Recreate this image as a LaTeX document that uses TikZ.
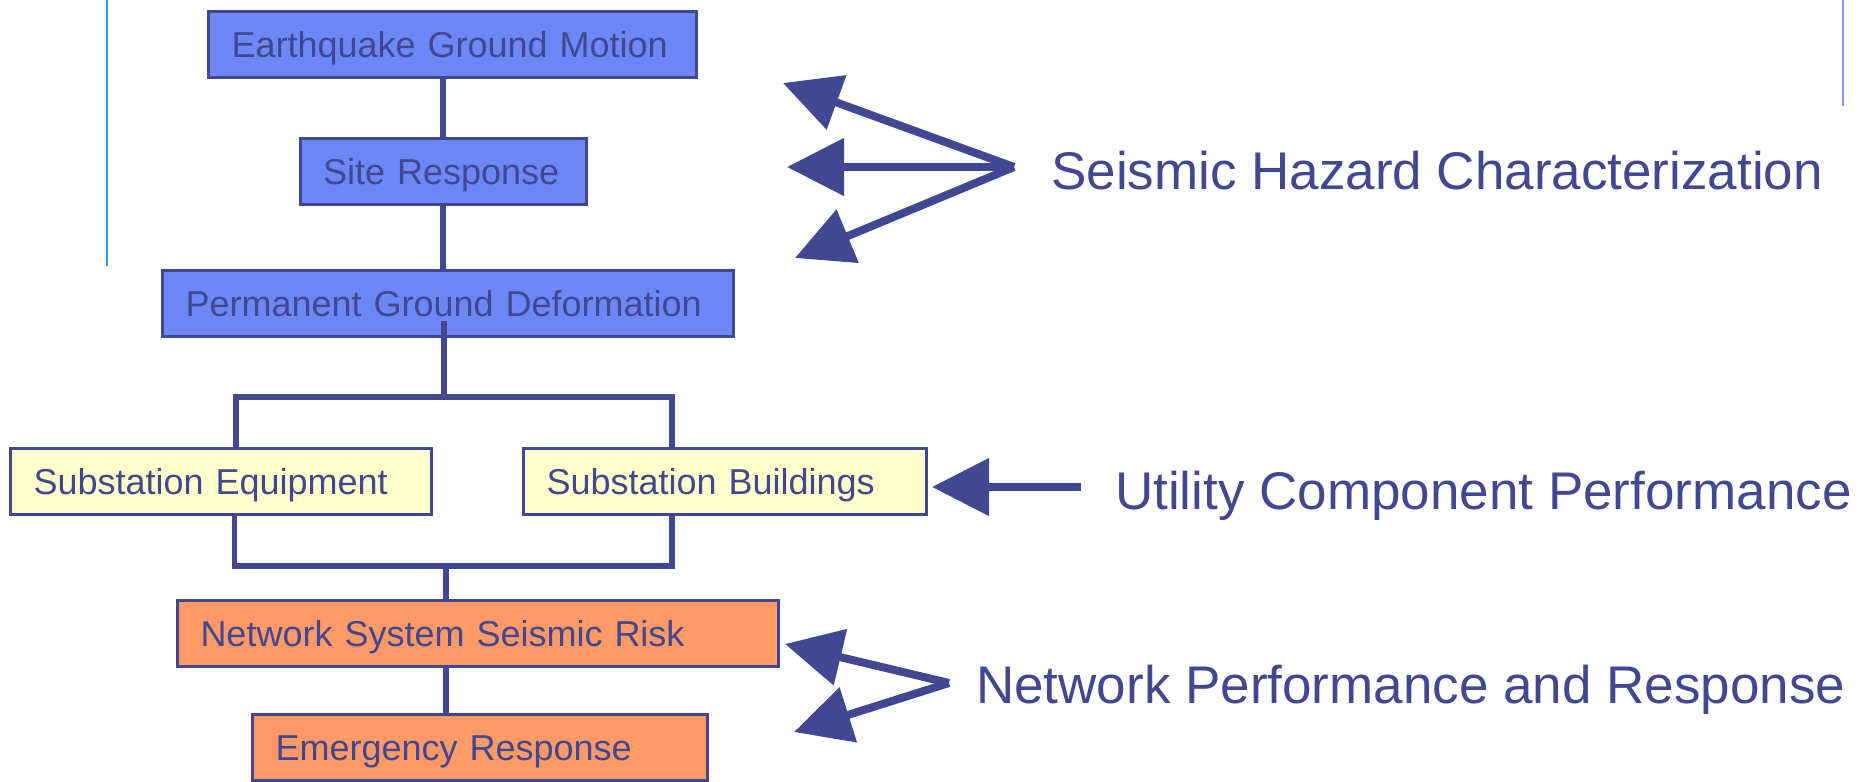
\documentclass[tikz,border=0pt]{standalone}
\usepackage{fontspec}
\setmainfont{Liberation Sans}
\usetikzlibrary{arrows.meta}
\definecolor{navy}{RGB}{65,71,144}
\definecolor{hazardfill}{RGB}{108,136,246}
\definecolor{componentfill}{RGB}{255,255,204}
\definecolor{networkfill}{RGB}{255,153,102}
\definecolor{guideblue}{RGB}{51,153,255}
\definecolor{guideviolet}{RGB}{130,155,255}
\tikzset{
  box/.style={draw=navy, line width=3pt, text=navy, font=\fontsize{36}{40}\selectfont,
    minimum height=66pt, inner xsep=23pt, align=left, text height=26pt, text depth=0pt},
  hazard/.style={box, fill=hazardfill},
  component/.style={box, fill=componentfill},
  network/.style={box, fill=networkfill},
  link/.style={draw=navy, line width=5.5pt},
  pointer/.style={draw=navy, line width=8pt, -{Triangle[length=57pt,width=56pt]}},
  caption/.style={text=navy, font=\fontsize{53}{60}\selectfont, anchor=base west, inner sep=0pt},
  guide/.style={draw=guideblue, line width=1.5pt}
}
\begin{document}
\begin{tikzpicture}[x=1pt,y=-1pt]
  \useasboundingbox (0,0) rectangle (1872,782);
  \draw[guide] (107,0) -- (107,266);
  \draw[guide, draw=guideviolet] (1843,0) -- (1843,106);

  \node[hazard, text width=442pt] (motion) at (452.5,44) {Earthquake Ground Motion};
  \node[hazard, text width=240pt] (site) at (443,171) {Site Response};
  \node[hazard, text width=525pt] (deform) at (448,303.5) {Permanent Ground Deformation};
  \node[component, text width=375pt] (equip) at (221,481.5) {Substation Equipment};
  \node[component, text width=357pt] (bldg) at (725,481.5) {Substation Buildings};
  \node[network, text width=555pt] (risk) at (478,633.5) {Network System Seismic Risk};
  \node[network, text width=409pt] (emerg) at (480,747) {Emergency Response};

  \coordinate (stem) at (444,321);
  \coordinate (splitL) at (236,397);
  \coordinate (splitR) at (672,397);
  \coordinate (joinL) at (234.5,566);
  \coordinate (joinR) at (672,566);
  \coordinate (joinM) at (446,566);

  \draw[link] (motion.south -| site.north) -- (site.north);
  \draw[link] (site.south) -- (site.south |- deform.north);
  \draw[link] (stem) -- (stem |- splitL);
  \draw[link] (splitL |- equip.north) -- (splitL) -- (splitR) -- (splitR |- bldg.north);
  \draw[link] (joinL |- equip.south) -- (joinL) -- (joinR) -- (joinR |- bldg.south);
  \draw[link] (joinM) -- (joinM |- risk.north);
  \draw[link] (risk.south -| joinM) -- (joinM |- emerg.north);

  \node[caption] (hazardtext) at (1051,189) {Seismic Hazard Characterization};
  \node[caption] (utilitytext) at (1115,509) {Utility Component Performance};
  \node[caption] (networktext) at (976,703) {Network Performance and Response};

  \coordinate (hz) at (1014,167);
  \coordinate (hz1) at (783,83);
  \coordinate (hz2) at (787,167);
  \coordinate (hz3) at (795,258);
  \foreach \t in {hz1,hz2,hz3}
    \draw[pointer] (hz) -- (\t);

  \coordinate (ut) at (1081,487);
  \draw[pointer, shorten >=4pt] (ut) -- (bldg.east |- ut);

  \coordinate (nt) at (949,683);
  \coordinate (nt1) at (785,644);
  \coordinate (nt2) at (794,732);
  \foreach \t in {nt1,nt2}
    \draw[pointer] (nt) -- (\t);
\end{tikzpicture}
\end{document}
